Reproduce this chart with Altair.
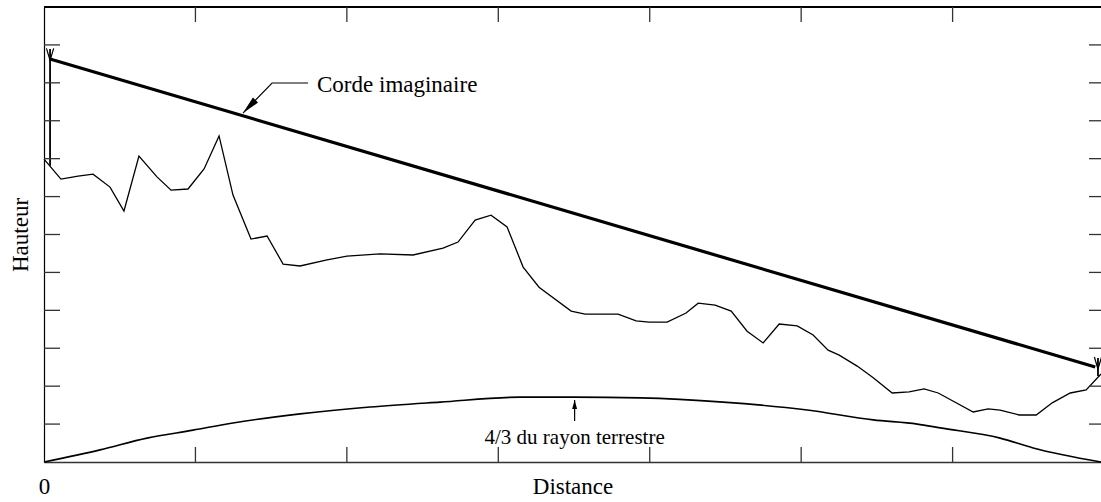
import altair as alt
import pandas as pd

W, H = 1057, 455
FONT = "Liberation Serif"

# ---- data (distance in arbitrary units 0..~70, height 0..120) ----
terrain_d = [0, 1.12, 2.25, 3.24, 4.36, 5.28, 6.27, 7.46, 8.39, 9.51,
             10.57, 11.56, 12.48, 13.67, 14.73, 15.79, 16.91, 18.69, 20.01, 22.19,
             24.37, 26.35, 27.34, 28.47, 29.52, 30.58, 31.64, 32.69, 34.81, 35.73,
             37.91, 39.10, 39.96, 41.15, 42.40, 43.20, 44.32, 45.38, 46.43, 47.49,
             48.55, 49.74, 50.79, 51.78, 52.51, 53.70, 54.76, 56.01, 57.13, 58.12,
             59.05, 61.36, 62.35, 63.14, 64.40, 65.52, 66.58, 67.77, 68.82, 69.8]
terrain_h = [79.9, 74.6, 75.4, 75.9, 72.5, 66.2, 80.7, 75.2, 71.7, 72.0,
             77.3, 86.0, 70.4, 58.8, 59.6, 52.2, 51.7, 53.3, 54.3, 54.9,
             54.6, 56.4, 58.0, 63.8, 65.1, 62.0, 51.4, 46.1, 39.8, 39.0,
             39.0, 37.2, 36.9, 36.9, 39.3, 41.9, 41.4, 39.8, 34.5, 31.4,
             36.4, 35.9, 33.5, 29.5, 28.2, 25.3, 22.2, 18.2, 18.5, 19.3,
             18.2, 13.2, 14.0, 13.7, 12.4, 12.4, 15.6, 18.2, 19.0, 23.2]

earth_d = [0, 3.70, 6.80, 9.84, 12.48, 16.91, 21.53, 26.16, 31.44, 35.0,
           39.37, 44.85, 50.40, 54.76, 57.67, 59.18, 63.14, 65.32, 69.8]
earth_h = [0, 3.2, 6.3, 8.4, 10.3, 12.7, 14.5, 15.8, 17.1, 17.1,
           16.9, 15.8, 13.7, 11.1, 10.0, 9.0, 6.3, 3.7, 0]

chord_d = [0.4, 69.42]
chord_h = [106.3, 25.05]

antenna_d = [0.4, 69.6]
antenna_base = [78.1, 22.7]
antenna_top = [108.9, 27.4]
antenna_sym_h = [107.5, 26.1]

x_ticks = [10, 20, 30, 40, 50, 60]
y_ticks = [10, 20, 30, 40, 50, 60, 70, 80, 90, 100, 110]

corde_leader_d = [17.44, 15.06, 13.14]
corde_leader_h = [99.95, 99.95, 92.04]
corde_text = ["Corde imaginaire"]
corde_text_d = [18.03]
corde_text_h = [97.6]

earth_text = ["4/3 du rayon terrestre"]
earth_text_d = [35.04]
earth_text_h = [4.75]
earth_arrow_d = [35.04, 35.04]
earth_arrow_h = [10.8, 16.35]

# ---- scales & axes ----
xs = alt.Scale(domain=[0, 69.8], nice=False, zero=False)
ys = alt.Scale(domain=[0, 120], nice=False, zero=False)

x_axis = alt.Axis(values=[0], title="Distance", grid=False, ticks=False, tickSize=0,
                  domain=True, domainColor="#333", domainWidth=1.6,
                  labelFont=FONT, labelFontSize=23, labelColor="black",
                  labelPadding=31, labelBaseline="alphabetic", labelFlush=False,
                  titleFont=FONT, titleFontSize=23, titleFontWeight="normal", titleColor="black",
                  titleY=31, titleBaseline="alphabetic")
y_axis = alt.Axis(title="Hauteur", grid=False, ticks=False, tickSize=0, labels=False,
                  domain=True, domainColor="black", domainWidth=1.2,
                  titleFont=FONT, titleFontSize=23, titleFontWeight="normal", titleColor="black",
                  titleX=-17, titleBaseline="alphabetic")

X = lambda f="d": alt.X(f"{f}:Q", scale=xs, axis=x_axis)
Y = lambda f="h": alt.Y(f"{f}:Q", scale=ys, axis=y_axis)

terrain = alt.Chart(pd.DataFrame({"d": terrain_d, "h": terrain_h})).mark_line(
    color="black", strokeWidth=1.3).encode(x=X(), y=Y())

earth = alt.Chart(pd.DataFrame({"d": earth_d, "h": earth_h})).mark_line(
    color="black", strokeWidth=1.6, interpolate="monotone").encode(x=X(), y=Y())

chord = alt.Chart(pd.DataFrame({"d": chord_d, "h": chord_h})).mark_line(
    color="black", strokeWidth=3.2).encode(x=X(), y=Y())

antennas = alt.Chart(pd.DataFrame({"d": antenna_d, "h": antenna_base, "h2": antenna_top})).mark_rule(
    color="black", strokeWidth=1.8).encode(x=X(), y=Y(), y2="h2:Q")

vsym = alt.Chart(pd.DataFrame({"d": antenna_d, "h": antenna_sym_h})).mark_point(
    shape="M-0.6,-1L0,1L0.6,-1", size=144, filled=False, color="black",
    strokeWidth=1.2, opacity=1).encode(x=X(), y=Y())

leader = alt.Chart(pd.DataFrame({"d": corde_leader_d, "h": corde_leader_h,
                                 "o": list(range(len(corde_leader_d)))})).mark_line(
    color="black", strokeWidth=1.1).encode(x=X(), y=Y(), order="o:Q")

corde_head = alt.Chart(pd.DataFrame({"d": corde_leader_d[-1:], "h": corde_leader_h[-1:]})).mark_point(
    shape="M0,0L0.4,2L-0.4,2Z", size=324, filled=True, color="black", opacity=1,
    angle=224, strokeWidth=0).encode(x=X(), y=Y())

corde_lbl = alt.Chart(pd.DataFrame({"d": corde_text_d, "h": corde_text_h, "t": corde_text})).mark_text(
    font=FONT, fontSize=23, align="left", baseline="alphabetic", color="black").encode(
    x=X(), y=Y(), text="t:N")

earth_shaft = alt.Chart(pd.DataFrame({"d": earth_arrow_d, "h": earth_arrow_h})).mark_line(
    color="black", strokeWidth=1.2).encode(x=X(), y=Y())

earth_head = alt.Chart(pd.DataFrame({"d": earth_arrow_d[-1:], "h": earth_arrow_h[-1:]})).mark_point(
    shape="M0,0L0.55,2L-0.55,2Z", size=81, filled=True, color="black", opacity=1,
    strokeWidth=0).encode(x=X(), y=Y())

earth_lbl = alt.Chart(pd.DataFrame({"d": earth_text_d, "h": earth_text_h, "t": earth_text})).mark_text(
    font=FONT, fontSize=21, align="center", baseline="alphabetic", color="black").encode(
    x=X(), y=Y(), text="t:N")

# frame top
top_frame = alt.Chart(pd.DataFrame({"a": [0]})).mark_rule(color="black", strokeWidth=2).encode(
    x=alt.value(0), x2=alt.value(W), y=alt.value(0))

# inward ticks
xt = pd.DataFrame({"d": x_ticks})
yt = pd.DataFrame({"h": y_ticks})
TICK = dict(color="#333", strokeWidth=1.3)
top_ticks = alt.Chart(xt).mark_rule(**TICK).encode(x=X(), y=alt.value(0), y2=alt.value(15))
bot_ticks = alt.Chart(xt).mark_rule(**TICK).encode(x=X(), y=alt.value(H - 15), y2=alt.value(H))
left_ticks = alt.Chart(yt).mark_rule(**TICK).encode(y=Y(), x=alt.value(0), x2=alt.value(16))
right_ticks = alt.Chart(yt).mark_rule(**TICK).encode(y=Y(), x=alt.value(W - 12), x2=alt.value(W))

chart = alt.layer(
    terrain, earth, chord, antennas, vsym, leader, corde_head, corde_lbl,
    earth_shaft, earth_head, earth_lbl,
    top_frame, top_ticks, bot_ticks, left_ticks, right_ticks,
).properties(
    width=W, height=H,
    autosize=alt.AutoSizeParams(type="none"),
    padding={"left": 44, "top": 7, "right": 0, "bottom": 40},
    background="white",
).configure_view(stroke=None)

chart.save("out.html", embed_options={"renderer": "svg", "actions": False})
